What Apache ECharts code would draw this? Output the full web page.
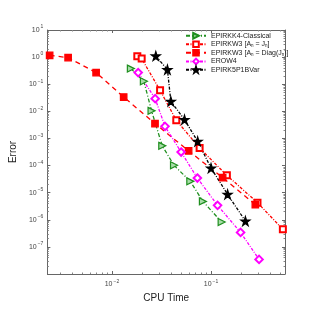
<!DOCTYPE html>
<html><head><meta charset="utf-8">
<script src="https://cdn.jsdelivr.net/npm/echarts@6/dist/echarts.min.js"></script>
<style>html,body{margin:0;padding:0;background:#fff}#c{width:315px;height:315px}</style>
</head><body><div id="c"></div>
<script>
// Data (CPU time, error)
const names = ['EPIRKK4-Classical','EPIRKW3 [An = Jn]','EPIRKW3 [An = Diag(Jn)]','EROW4','EPIRK5P1BVar'];
const k4Time = [0.01552,0.0210,0.0251,0.0322,0.0423,0.0618,0.0828,0.128];
const k4Err  = [0.377,0.128,0.0104,5.33e-4,1.02e-4,2.61e-5,4.77e-6,8.22e-7];
const w3jTime = [0.01803,0.01995,0.0306,0.0446,0.0767,0.1445,0.2944,0.531];
const w3jErr  = [1.07,0.88,0.0596,0.00466,4.42e-4,4.35e-5,4.28e-6,4.43e-7];
const w3dTime = [0.00235,0.00361,0.00692,0.01313,0.0272,0.0594,0.131,0.280];
const w3dErr  = [1.16,0.96,0.268,0.0337,0.00352,3.48e-4,3.58e-5,3.61e-6];
const erowTime = [0.0184,0.0273,0.0343,0.0499,0.0728,0.1164,0.1987,0.3054];
const erowErr  = [0.268,0.0294,0.00279,3.15e-4,3.46e-5,3.40e-6,3.43e-7,3.46e-8];
const p5Time = [0.0277,0.0363,0.0393,0.0540,0.0733,0.100,0.147,0.2223];
const p5Err  = [1.10,0.346,0.0234,0.00494,7.82e-4,8.09e-5,8.65e-6,8.95e-7];
const xMin = 0.00223, xMax = 0.558, yMin = 1e-8, yMax = 10;

const zip = (a,b) => a.map((v,i)=>[v,b[i]]);
const star = 'path://M50,0 L61,35 L98,35 L68,57 L79,91 L50,70 L21,91 L32,57 L2,35 L39,35 Z';
const tri = 'path://M0,0 L100,50 L0,100 Z';
const FONT = 'Liberation Sans, Arial, sans-serif';

function powLabel(v){
  const e = Math.log10(v);
  const r = Math.round(e);
  if (Math.abs(e - r) > 1e-6) return '';
  return '10{sup|' + (r < 0 ? '\u2212' + (-r) : r) + '}';
}
const labelRich = {sup:{fontSize:5,color:'#444',fontFamily:FONT,padding:[0,0,6,1]}};

function mkAxis(pos, isX, show){
  const a = {
    type:'log', logBase:10, position:pos,
    min: isX ? xMin : yMin, max: isX ? xMax : yMax,
    splitNumber: isX ? 2 : 9,
    axisLine:{show:true,lineStyle:{color:'#666',width:1}},
    axisTick:{show:true,inside:true,length:3,lineStyle:{color:'#666'}},
    minorTick:{show:true,splitNumber:9,length:1.5,lineStyle:{color:'#888'}},
    splitLine:{show:false},
    axisLabel:{show:show,fontSize:7,color:'#444',fontFamily:FONT,margin:isX?5:4,
      formatter:powLabel,rich:labelRich,showMinLabel:false,showMaxLabel:!isX},
  };
  if(show){
    a.name = isX ? 'CPU Time' : 'Error';
    a.nameLocation = 'middle';
    a.nameGap = isX ? 14 : 19;
    a.nameTextStyle = {fontSize:10,color:'#222',fontFamily:FONT};
  }
  return a;
}

const chart = echarts.init(document.getElementById('c'), null, {renderer:'canvas'});
const richLeg = {sub:{fontSize:4.5,color:'#222',fontFamily:FONT,padding:[3,0,0,0]}, n:{fontSize:7,color:'#222',fontFamily:FONT}};
function legFmt(name){
  if(name === names[1]) return '{n|EPIRKW3 [A}{sub|n}{n| = J}{sub|n}{n|]}';
  if(name === names[2]) return '{n|EPIRKW3 [A}{sub|n}{n| = Diag(J}{sub|n}{n|)]}';
  return '{n|' + name + '}';
}
function mkSeries(name, t, e, color, symbol, dash, extra){
  return Object.assign({
    name, type:'line', data: zip(t,e), xAxisIndex:0, yAxisIndex:0,
    symbol, symbolSize:6.5, showSymbol:true,
    lineStyle:{color,width:1.3,type:dash},
    itemStyle:{color,borderColor:color,borderWidth:1.2},
    emphasis:{disabled:true}, animation:false, clip:false
  }, extra||{});
}
chart.setOption({
  animation:false,
  grid:{left:41,right:30,top:30,bottom:41,containLabel:false},
  xAxis:[mkAxis('bottom',true,true), mkAxis('top',true,false)],
  yAxis:[mkAxis('left',false,true), mkAxis('right',false,false)],
  legend:{
    left:183, top:30, padding:[2,2,2,2], orient:'vertical', itemWidth:20, itemHeight:7, itemGap:0.8,
    data:names, formatter:legFmt, textStyle:{rich:richLeg,fontSize:7,color:'#222'},
    selectedMode:false
  },
  series:[
    mkSeries(names[0], k4Time, k4Err, '#1f8f1f', tri, [4,2,1,2], {symbolSize:7, itemStyle:{color:'#a8dca8',borderColor:'#1f8f1f',borderWidth:1.2}}),
    mkSeries(names[1], w3jTime, w3jErr, '#ff0000', 'emptyRect', [3,1.5,1,1.5], {symbolSize:6}),
    mkSeries(names[2], w3dTime, w3dErr, '#ff0000', 'rect', [5,4], {symbolSize:6.5}),
    mkSeries(names[3], erowTime, erowErr, '#ff00ff', 'emptyDiamond', [3,1.5,1,1.5], {symbolSize:7.5}),
    mkSeries(names[4], p5Time, p5Err, '#000000', star, [3,1.5,1,1.5], {symbolSize:9})
  ]
});
</script></body></html>
